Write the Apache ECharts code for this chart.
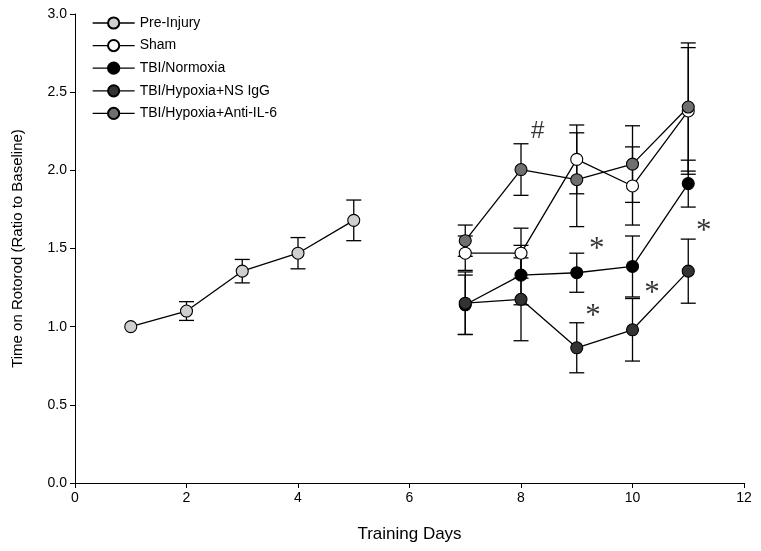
<!DOCTYPE html>
<html><head><meta charset="utf-8">
<script src="https://cdn.jsdelivr.net/npm/echarts@6/dist/echarts.min.js"></script>
<style>html,body{margin:0;padding:0;background:#fff}#c{width:761px;height:551px}</style>
</head><body><div id="c"></div>
<script>
// ---- data ----
const seriesNames = ['Pre-Injury','Sham','TBI/Normoxia','TBI/Hypoxia+NS IgG','TBI/Hypoxia+Anti-IL-6'];
const preDays = [1, 2, 3, 4, 5];
const postDays = [7, 8, 9, 10, 11];
const preInjury    = [1.00, 1.10, 1.355, 1.47, 1.68];
const preInjuryErr = [0.00, 0.06, 0.075, 0.10, 0.13];
const sham         = [1.47, 1.47, 2.07, 1.90, 2.38];
const shamErr      = [0.11, 0.16, 0.22, 0.25, 0.405];
const normoxia     = [1.14, 1.33, 1.345, 1.385, 1.915];
const normoxiaErr  = [0.19, 0.19, 0.125, 0.195, 0.15];
const nsIgG        = [1.15, 1.175, 0.865, 0.98, 1.355];
const nsIgGErr     = [0.20, 0.265, 0.16, 0.20, 0.205];
const antiIL6      = [1.55, 2.005, 1.94, 2.04, 2.405];
const antiIL6Err   = [0.10, 0.165, 0.30, 0.245, 0.41];
const yTicks = [0, 0.5, 1.0, 1.5, 2.0, 2.5, 3.0];
const xTicks = [0, 2, 4, 6, 8, 10, 12];
const annotText = ['#', '*', '*', '*', '*'];
const annotX    = [8.30, 9.36, 9.29, 10.35, 11.28];
const annotY    = [2.25, 1.52, 1.09, 1.235, 1.63];

const fills = ['#cfcfcf', '#ffffff', '#000000', '#333333', '#6f6f6f'];
const FONT = 'Liberation Sans, Arial, Helvetica, sans-serif';

function pairs(xs, ys) { return xs.map((x, i) => [x, ys[i]]); }
function triples(xs, ys, es) { return xs.map((x, i) => [x, ys[i], es[i]]); }

function errRender(params, api) {
  const x = api.value(0), y = api.value(1), e = api.value(2);
  if (!e) return null;
  const t = api.coord([x, y + e]);
  const b = api.coord([x, y - e]);
  const hw = 7.5;
  const st = {stroke: '#000', lineWidth: 1.3};
  return {type: 'group', children: [
    {type: 'line', shape: {x1: t[0], y1: t[1], x2: b[0], y2: b[1]}, style: st},
    {type: 'line', shape: {x1: t[0] - hw, y1: t[1], x2: t[0] + hw, y2: t[1]}, style: st},
    {type: 'line', shape: {x1: b[0] - hw, y1: b[1], x2: b[0] + hw, y2: b[1]}, style: st}
  ]};
}

const groups = [
  [preDays, preInjury, preInjuryErr],
  [postDays, sham, shamErr],
  [postDays, normoxia, normoxiaErr],
  [postDays, nsIgG, nsIgGErr],
  [postDays, antiIL6, antiIL6Err]
];

const series = [];
groups.forEach((g, i) => {
  series.push({
    name: 'err' + i, type: 'custom', renderItem: errRender, z: 1,
    data: triples(g[0], g[1], g[2]), silent: true
  });
});
groups.forEach((g, i) => {
  series.push({
    name: seriesNames[i], type: 'line', z: 3,
    data: pairs(g[0], g[1]),
    symbol: 'circle', symbolSize: 12,
    lineStyle: {color: '#000', width: 1.3},
    itemStyle: {color: fills[i], borderColor: '#000', borderWidth: 1.1},
    emphasis: {disabled: true}, animation: false
  });
});
series.push({
  name: 'annot', type: 'scatter', symbolSize: 0, z: 5,
  data: annotX.map((x, i) => ({
    value: [x, annotY[i]], name: annotText[i],
    label: annotText[i] === '#'
      ? {fontFamily: FONT, fontSize: 24, offset: [0, 0]}
      : {fontFamily: 'Liberation Serif, Times New Roman, serif', fontSize: 31, offset: [0, 4]}
  })),
  label: {show: true, position: 'inside', formatter: p => p.name, color: '#000'}
});

const chart = echarts.init(document.getElementById('c'), null, {renderer: 'canvas'});
chart.setOption({
  animation: false,
  backgroundColor: '#fff',
  grid: {left: 75, right: 17, top: 14, bottom: 68, containLabel: false},
  legend: {
    data: seriesNames, orient: 'vertical', left: 87, top: 11,
    itemWidth: 42, itemHeight: 14, itemGap: 8.6,
    lineStyle: {width: 1.3},
    textStyle: {fontFamily: FONT, fontSize: 14, color: '#000', padding: [0, 0, 0, 0]},
    selectedMode: false
  },
  xAxis: {
    type: 'value', min: 0, max: 12, interval: 2,
    name: 'Training Days', nameLocation: 'middle', nameGap: 43,
    nameTextStyle: {fontFamily: FONT, fontSize: 17, color: '#000'},
    axisLine: {lineStyle: {color: '#000', width: 1}},
    axisTick: {show: true, length: 5, lineStyle: {color: '#000'}},
    axisLabel: {fontFamily: FONT, fontSize: 14, color: '#000', margin: 8},
    splitLine: {show: false}
  },
  yAxis: {
    type: 'value', min: 0, max: 3, interval: 0.5,
    name: 'Time on Rotorod (Ratio to Baseline)', nameLocation: 'middle', nameGap: 50,
    nameTextStyle: {fontFamily: FONT, fontSize: 15, color: '#000'},
    axisLine: {show: true, lineStyle: {color: '#000', width: 1}},
    axisTick: {show: true, length: 5, lineStyle: {color: '#000'}},
    axisLabel: {fontFamily: FONT, fontSize: 14, color: '#000', margin: 8,
      formatter: v => v.toFixed(1)},
    splitLine: {show: false}
  },
  series: series
});
</script></body></html>
